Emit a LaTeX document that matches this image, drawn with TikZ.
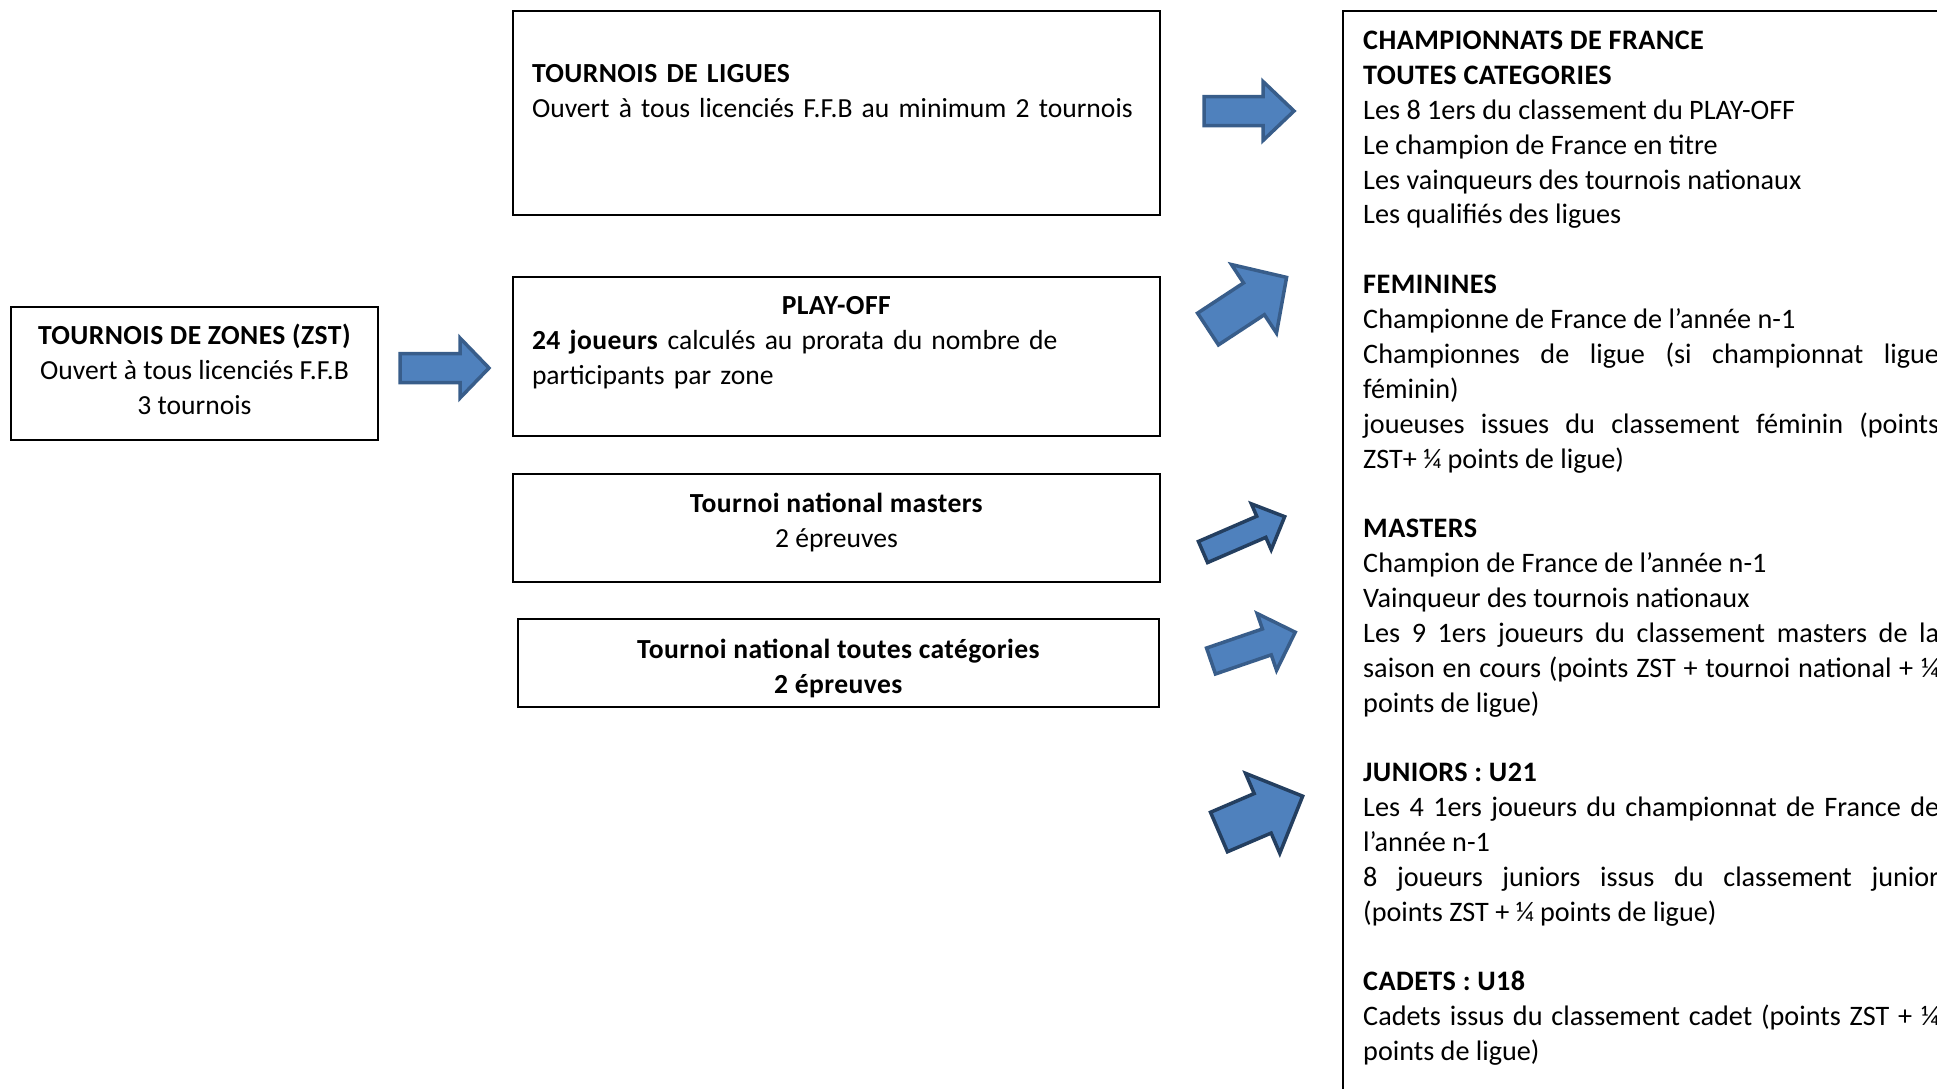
\documentclass[tikz,border=0pt]{standalone}
\usepackage{fontspec}
\setmainfont{Carlito}[BoldFeatures={LetterSpace=1.5}]
\usetikzlibrary{positioning}
\setlength{\parindent}{0pt}
\frenchspacing
\definecolor{flecheBleu}{HTML}{4F81BD}
\definecolor{bordBleu}{HTML}{385D8A}
\definecolor{bordFonce}{HTML}{243F60}

% block arrow: x, y (tail centre), angle, length, half shaft, half head, head length, style
\newcommand{\flechebloc}[8]{%
  \begin{scope}[shift={(#1,#2)},rotate=#3]
    \draw[#8] (0,-#5) -- ({#4-#7},-#5) -- ({#4-#7},-#6) -- (#4,0)
      -- ({#4-#7},#6) -- ({#4-#7},#5) -- (0,#5) -- cycle;
  \end{scope}}

\begin{document}
\begin{tikzpicture}
  [x=1pt,y=-1pt,
   every node/.style={font=\fontsize{27.6}{35}\selectfont},
   boite/.style={draw,line width=1.5pt,inner sep=0pt},
   texte/.style={inner sep=0pt},
   fleche/.style={fill=flecheBleu,draw=bordBleu,line width=3.5pt,line join=miter},
   flecheFonce/.style={fleche,draw=bordFonce}]

  \useasboundingbox (0,0) rectangle (1937,1088);
  \clip (0,0) rectangle (1937,1088);

  % boxes on the left
  \node[boite,minimum width=367,minimum height=133] (zst)      at (194.5,373.5) {};
  \node[boite,minimum width=647,minimum height=204] (ligues)   at (836.5,113)   {};
  \node[boite,minimum width=647,minimum height=159] (playoff)  at (836.5,356.5) {};
  \node[boite,minimum width=647,minimum height=108] (masters)  at (836.5,528)   {};
  \node[boite,minimum width=641,minimum height=88]  (national) at (838.5,663)   {};

  \node[texte,align=center] (zstTexte) at (194.5,369.5)
    {\textbf{TOURNOIS DE ZONES (ZST)}\\Ouvert à tous licenciés F.F.B\\3 tournois};
  \node[texte,text width=609,align=left] (liguesTexte) at (836.5,91)
    {\textbf{TOURNOIS DE LIGUES}\\Ouvert à tous licenciés F.F.B au minimum 2 tournois};
  \node[texte,text width=609] (playoffTexte) at (836.5,342.5)
    {\centering\textbf{PLAY-OFF}\par\raggedright\textbf{24 joueurs} calculés au prorata du nombre de\\participants par zone\par};
  \node[texte,align=center] (mastersTexte) at (836.5,523)
    {\textbf{Tournoi national masters}\\2 épreuves};
  \node[texte,align=center] (nationalTexte) at (838.5,668)
    {\textbf{Tournoi national toutes catégories}\\\textbf{2 épreuves}};

  % right frame, cut by the page
  \draw[line width=1.5pt] (1343,1100) -- (1343,11) -- (1960,11);

  \node[texte,anchor=north west,text width=576,align=justify,
        font=\fontsize{28.2}{34.86}\selectfont] (championnats) at (1363,31)
    {\hyphenpenalty=10000\exhyphenpenalty=10000
     \textbf{CHAMPIONNATS DE FRANCE}\par
     \textbf{TOUTES CATEGORIES}\par
     Les 8 1ers du classement du PLAY-OFF\par
     Le champion de France en titre\par
     Les vainqueurs des tournois nationaux\par
     Les qualifiés des ligues\par
     \mbox{}\par
     \textbf{FEMININES}\par
     Championne de France de l’année n-1\par
     Championnes de ligue (si championnat ligue\linebreak féminin)\par
     joueuses issues du classement féminin (points\linebreak ZST+ ¼ points de ligue)\par
     \mbox{}\par
     \textbf{MASTERS}\par
     Champion de France de l’année n-1\par
     Vainqueur des tournois nationaux\par
     Les 9 1ers joueurs du classement masters de la\linebreak saison en cours (points ZST + tournoi national + ¼\linebreak points de ligue)\par
     \mbox{}\par
     \textbf{JUNIORS : U21}\par
     Les 4 1ers joueurs du championnat de France de\linebreak l’année n-1\par
     8 joueurs juniors issus du classement junior\linebreak (points ZST + ¼ points de ligue)\par
     \mbox{}\par
     \textbf{CADETS : U18}\par
     Cadets issus du classement cadet (points ZST + ¼\linebreak points de ligue)\par};

  % arrows
  \flechebloc{400}{368}{0}{89}{14.5}{30}{29}{fleche}
  \flechebloc{1204}{111}{0}{90}{14.5}{29.5}{31}{fleche}
  \flechebloc{1208}{329}{33.3}{94}{19}{41}{39}{fleche}
  \flechebloc{1203}{552}{23.4}{89}{11.5}{25}{25.5}{flecheFonce}
  \flechebloc{1211}{661}{18.9}{89}{13.7}{30}{30}{fleche}
  \flechebloc{1219}{832}{23.2}{91}{21.5}{43.5}{43.5}{flecheFonce}

\end{tikzpicture}
\end{document}
